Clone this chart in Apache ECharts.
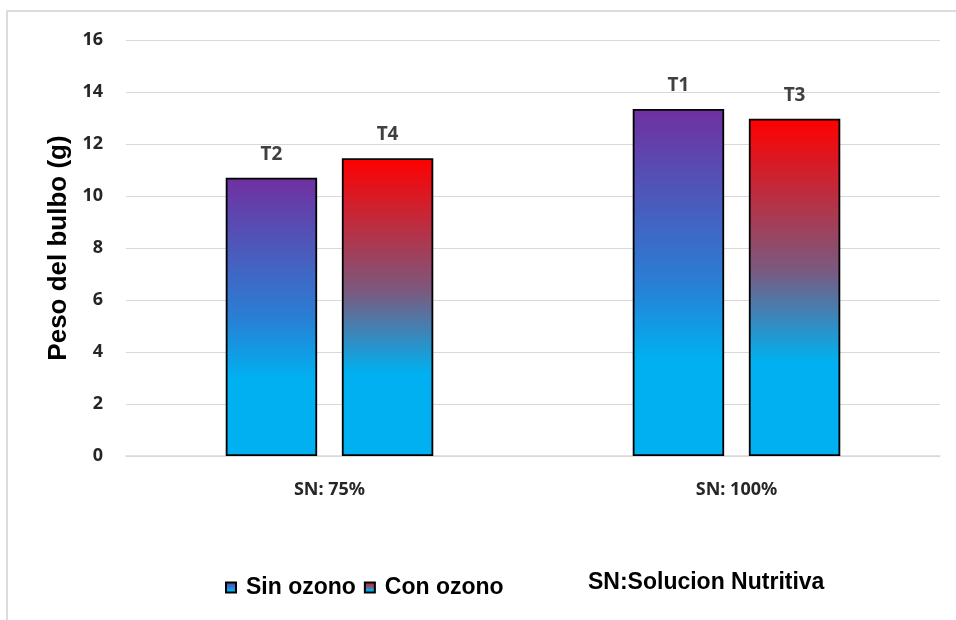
<!DOCTYPE html>
<html>
<head>
<meta charset="utf-8">
<script src="https://cdn.jsdelivr.net/npm/echarts@6/dist/echarts.min.js"></script>
<style>
  html, body { margin: 0; padding: 0; background: #ffffff; }
  #chart { width: 956px; height: 620px; }
</style>
</head>
<body>
<div id="chart"></div>
<script>
// Nutrient-solution level per group
const categories = ['SN: 75%', 'SN: 100%'];
// Bulb weight (g) without ozone
const sinOzono = [10.70, 13.35];
// Bulb weight (g) with ozone
const conOzono = [11.45, 12.97];
// Treatment tags shown above each bar
const sinTags = ['T2', 'T1'];
const conTags = ['T4', 'T3'];
// Y axis range
const yMin = 0, yMax = 16, yStep = 2;

const cyan = '#00B0F0';
const gradSin = new echarts.graphic.LinearGradient(0, 0, 0, 1, [
  { offset: 0, color: '#7030A0' },
  { offset: 0.3, color: '#4660C0' },
  { offset: 0.5, color: '#2A7ED4' },
  { offset: 0.72, color: cyan },
  { offset: 1, color: cyan }
]);
const gradCon = new echarts.graphic.LinearGradient(0, 0, 0, 1, [
  { offset: 0, color: '#FF0000' },
  { offset: 0.45, color: '#7A5A80' },
  { offset: 0.72, color: cyan },
  { offset: 1, color: cyan }
]);

const sansBold = { fontFamily: 'Noto Sans', fontWeight: 700 };
const arialBold = { fontFamily: 'Liberation Sans', fontWeight: 700 };

function barLabel(tags) {
  return Object.assign({
    show: true,
    position: 'top',
    distance: 14,
    fontSize: 19,
    color: '#404040',
    formatter: p => tags[p.dataIndex]
  }, sansBold);
}

const chart = echarts.init(document.getElementById('chart'), null, { renderer: 'canvas' });
chart.setOption({
  animation: false,
  backgroundColor: '#ffffff',
  grid: { left: 126, right: 16, top: 40, bottom: 164, containLabel: false },
  xAxis: {
    type: 'category',
    data: categories,
    axisLine: { show: true, lineStyle: { color: '#d9d9d9', width: 1.5 } },
    axisTick: { show: false },
    axisLabel: Object.assign({ margin: 25, fontSize: 18, color: '#262626' }, sansBold)
  },
  yAxis: {
    type: 'value',
    min: yMin,
    max: yMax,
    interval: yStep,
    name: 'Peso del bulbo (g)',
    nameLocation: 'middle',
    nameGap: 54,
    nameTextStyle: Object.assign({ fontSize: 26, color: '#000000' }, arialBold),
    axisLine: { show: false },
    axisTick: { show: false },
    splitLine: { show: true, lineStyle: { color: '#d9d9d9', width: 1.2 } },
    axisLabel: Object.assign({ margin: 23, fontSize: 18, color: '#262626' }, sansBold)
  },
  legend: {
    data: ['Sin ozono', 'Con ozono'],
    icon: 'rect',
    left: 220,
    top: 571,
    itemWidth: 10,
    itemHeight: 10,
    itemGap: 8,
    textStyle: Object.assign({ fontSize: 23, color: '#000000', padding: [0, 0, 0, 5] }, arialBold)
  },
  series: [
    {
      name: 'Sin ozono',
      type: 'bar',
      data: sinOzono,
      barGap: '27%',
      barCategoryGap: '49%',
      itemStyle: { color: gradSin, borderColor: '#000000', borderWidth: 1.8 },
      label: barLabel(sinTags)
    },
    {
      name: 'Con ozono',
      type: 'bar',
      data: conOzono,
      itemStyle: { color: gradCon, borderColor: '#000000', borderWidth: 1.8 },
      label: barLabel(conTags)
    }
  ],
  graphic: [
    {
      type: 'rect',
      silent: true,
      shape: { x: 7, y: 11, width: 980, height: 640 },
      style: { fill: 'none', stroke: '#dcdcdc', lineWidth: 2 }
    },
    {
      type: 'text',
      left: 588,
      top: 571,
      style: Object.assign({ text: 'SN:Solucion Nutritiva', fontSize: 23, fill: '#000000' }, arialBold)
    }
  ]
});
</script>
</body>
</html>
